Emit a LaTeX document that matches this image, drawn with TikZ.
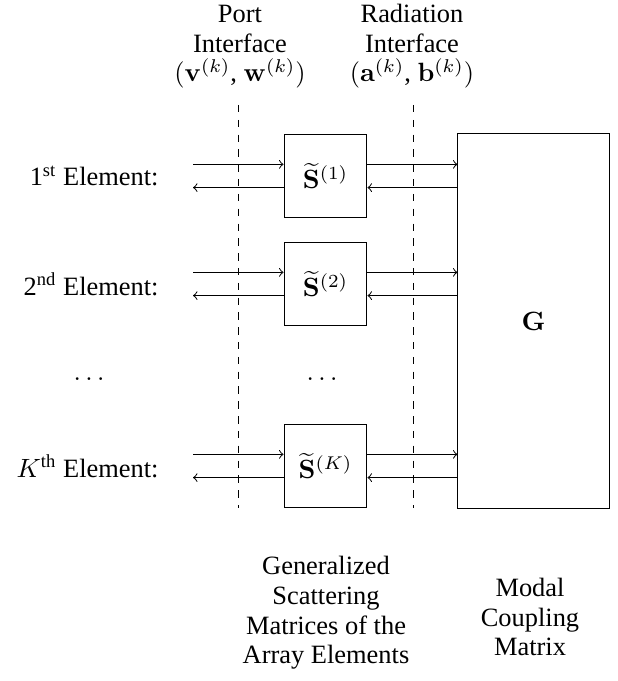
\RequirePackage{fix-cm}
\documentclass[tikz,border=0pt]{standalone}
\usepackage[no-math]{fontspec}
\setmainfont{Liberation Serif}
\usepackage{amsmath}
\usepackage{amssymb}
\usetikzlibrary{positioning}

\tikzset{
    smat/.style={draw, minimum width=33.6pt, minimum height=33.6pt, inner sep=0pt},
    cmat/.style={draw, minimum width=61.2pt, minimum height=151.5pt, inner sep=0pt},
    elabel/.style={anchor=east, inner sep=0pt},
    caption/.style={align=center, inner sep=0pt},
}

\begin{document}
\begin{tikzpicture}[x=0.405pt, y=-0.405pt,
    every node/.style={font=\fontsize{10.7}{12}\selectfont}]
    \useasboundingbox (0,0) rectangle (618,681);

    % interfaces
    \coordinate (pt) at (238,105);
    \coordinate (pb) at (238,508);
    \coordinate (rt) at (413,105);
    \coordinate (rb) at (413,508);
    \draw[dashed] (pt) -- (pb);
    \draw[dashed] (rt) -- (rb);

    \node[caption, anchor=south] (port) at (240,89) {Port\\Interface\\$(\mathbf{v}^{(k)}$, $\mathbf{w}^{(k)})$};
    \node[caption, anchor=south] (rad) at (412,89) {Radiation\\Interface\\$(\mathbf{a}^{(k)}$, $\mathbf{b}^{(k)})$};

    % coupling matrix
    \node[cmat] (G) at (533.5,321) {$\mathbf{G}$};

    % elements
    \foreach \n/\y/\lab in {1/176/1\textsuperscript{st}, 2/284/2\textsuperscript{nd}, K/466/$K^{\text{th}}$}{
        \node[smat] (s\n) at (325.5,\y) {$\widetilde{\mathbf{S}}^{(\n)}$};
        \node[elabel] (lbl\n) at (159,\y) {\lab{} Element:};
        \coordinate (in\n) at (193,\y);
        \draw[->] ([yshift=4.7pt]in\n) -- ([yshift=4.7pt]s\n.west);
        \draw[->] ([yshift=-4.7pt]s\n.west) -- ([yshift=-4.7pt]in\n);
        \draw[->] ([yshift=4.7pt]s\n.east) -- ([yshift=4.7pt]s\n.east -| G.west);
        \draw[->] ([yshift=-4.7pt]s\n.east -| G.west) -- ([yshift=-4.7pt]s\n.east);
    }

    \node[anchor=base, inner sep=0pt] (dl) at (89,380) {$\ldots$};
    \node[anchor=base, inner sep=0pt] (dm) at (322,380) {$\ldots$};

    \node[caption] (gsm) at (326,613) {Generalized\\Scattering\\Matrices of the\\Array Elements};
    \node[caption] (mcm) at (530,617) {Modal\\Coupling\\Matrix};
\end{tikzpicture}
\end{document}
